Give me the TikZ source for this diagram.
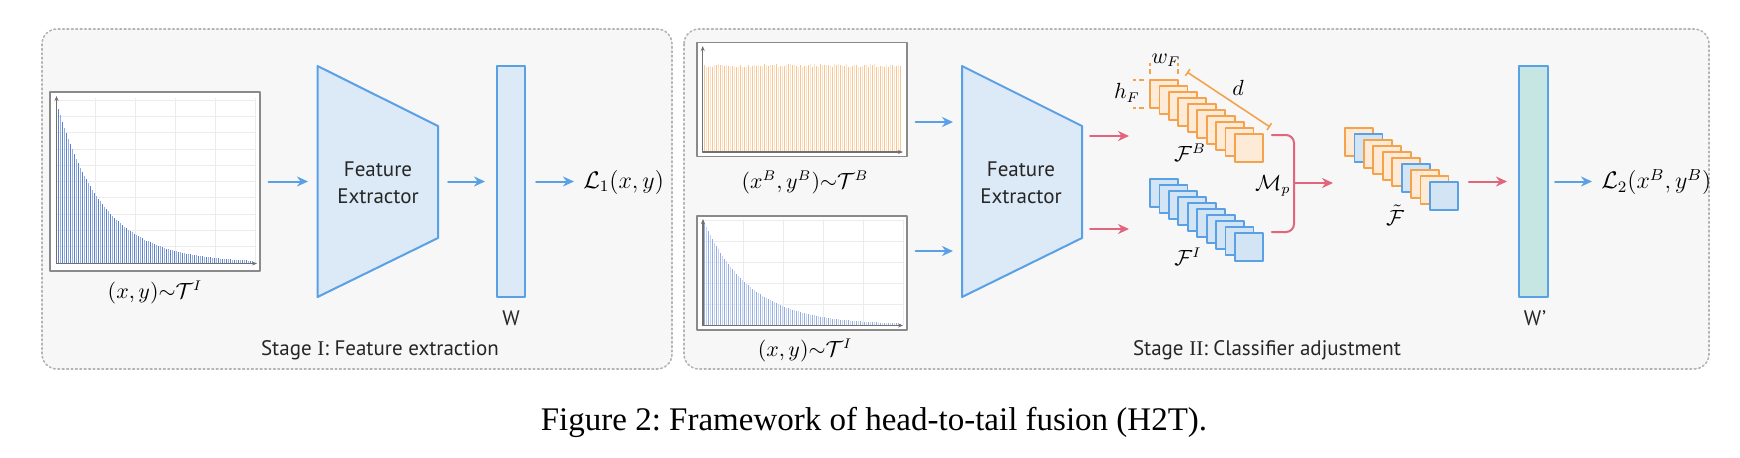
\documentclass[tikz,border=0pt]{standalone}
\usepackage{fontspec}
\setmainfont{Liberation Serif}
\setsansfont{PT Sans}
\usetikzlibrary{arrows.meta,positioning,calc}
\frenchspacing

\definecolor{bluel}{HTML}{5AA0E4}
\definecolor{bluefill}{HTML}{DCE9F6}
\definecolor{mapblue}{HTML}{D3E4F5}
\definecolor{orangel}{HTML}{F5A24C}
\definecolor{orangefill}{HTML}{FDEBD8}
\definecolor{redl}{HTML}{E0657D}
\definecolor{tealfill}{HTML}{C5E6E3}
\definecolor{boxfill}{HTML}{F7F7F7}
\definecolor{boxline}{HTML}{B4B4B4}
\definecolor{chartline}{HTML}{8A8A8A}
\definecolor{axisgray}{HTML}{707070}
\definecolor{gridgray}{HTML}{ECECEC}
\definecolor{taildark}{HTML}{5C80D0}
\definecolor{tailmid}{HTML}{93ACE4}
\definecolor{taillight}{HTML}{A6BCEA}
\definecolor{tailpale}{HTML}{C2D2F2}
\definecolor{headdark}{HTML}{F8C593}
\definecolor{headlight}{HTML}{FCE3C8}

\tikzset{
  stagebox/.style={fill=boxfill, draw=boxline, line width=0.8pt,
    dash pattern=on 0.9pt off 1.3pt, rounded corners=7.5pt},
  chartbox/.style={draw=chartline, fill=white, line width=0.7pt, inner sep=0pt,
    minimum width=105pt},
  axisline/.style={draw=axisgray, line width=0.6pt, -{Stealth[length=2.5pt,width=2pt]}},
  gridline/.style={draw=gridgray, line width=0.4pt},
  barline/.style={line width=0.5pt, line cap=butt},
  fextract/.style={draw=bluel, fill=bluefill, line width=1pt},
  wbar/.style={draw=bluel, line width=1pt, inner sep=0pt, minimum height=115.5pt},
  barrow/.style={draw=bluel, line width=1pt, -{Stealth[length=5.5pt,width=5pt]}},
  rarrow/.style={draw=redl, line width=1pt, -{Stealth[length=5.5pt,width=5pt]}},
  redline/.style={draw=redl, line width=1pt},
  fmap/.style={minimum size=14pt, inner sep=0pt, outer sep=0pt, line width=0.9pt},
  omap/.style={fmap, draw=orangel, fill=orangefill},
  bmap/.style={fmap, draw=bluel, fill=mapblue},
  dimline/.style={draw=orangel, line width=0.8pt},
  lbl/.style={font=\sffamily\fontsize{10.5}{13.3}\selectfont, text=black!85},
  mlbl/.style={font=\fontsize{10.5}{12}\selectfont},
  losslbl/.style={font=\fontsize{11.5}{13}\selectfont, anchor=west, inner sep=0pt},
}

\begin{document}
\begin{tikzpicture}[x=0.5pt, y=-0.5pt, >=Stealth, line cap=round, line join=round]
  \useasboundingbox (0,0) rectangle (1740,457);

  % stage panels
  \draw[stagebox] (42,29) rectangle (672,369);
  \draw[stagebox] (684,29) rectangle (1709,369);
  \node[lbl] (stageA) at (380,350) {Stage {\rmfamily I}: Feature extraction};
  \node[lbl] (stageB) at (1267,350) {Stage {\rmfamily II}: Classifier adjustment};

  % ---- Stage I ----
  \node[chartbox, minimum height=89.5pt] (chartA) at (155,181.5) {};
  \foreach \k in {0,...,9}
    \draw[gridline] (57,100+16.3*\k) -- (255,100+16.3*\k);
  \foreach \gx in {95.7,135.7,175.7,215.7,255.7}
    \draw[gridline] (\gx,98) -- (\gx,263);
  \foreach \i in {0,...,97} {
    \pgfmathsetmacro{\bx}{58.5+2*\i}
    \pgfmathsetmacro{\bh}{156*exp(-(\bx-58)/45.7)}
    \ifodd\i
      \draw[barline, tailmid] (\bx,263) -- ++(0,-\bh);
    \else
      \draw[barline, taildark] (\bx,263) -- ++(0,-\bh);
    \fi
  }
  \draw[axisline] (56.5,263.5) -- (56.5,96);
  \draw[axisline] (56.5,263.5) -- (257,263.5);
  \node[mlbl] (chartAlbl) at (155,292) {$(x,y){\sim}\mathcal{T}^{I}$};

  \draw[fextract] (317.5,66) -- (438,126) -- (438,238) -- (317.5,297) -- cycle;
  \node[lbl, align=center] (feA) at (378,183) {Feature\\Extractor};
  \coordinate (feAin) at (317.5,181.5);
  \coordinate (feAout) at (438,181.5);

  \node[wbar, fill=bluefill, minimum width=14pt] (wA) at (511,181.5) {};
  \node[lbl] (wAlbl) at (511,318) {W};
  \node[losslbl] (lossA) at (583,182) {$\mathcal{L}_1(x,y)$};

  \draw[barrow, shorten <=4pt, shorten >=4.75pt] (chartA.east) -- (feAin);
  \draw[barrow, shorten <=5pt, shorten >=5.5pt] (feAout) -- (wA.west);
  \draw[barrow, shorten <=5pt, shorten >=4.5pt] (wA.east) -- (lossA.west |- wA);

  % ---- Stage II ----
  \node[chartbox, minimum height=57pt] (chartB) at (802,99.5) {};
  \pgfmathsetseed{7}
  \foreach \i in {0,...,98} {
    \pgfmathsetmacro{\bx}{704.5+2*\i}
    \pgfmathsetmacro{\bh}{86+3*rnd-1.5}
    \ifodd\i
      \draw[barline, headlight] (\bx,151.7) -- ++(0,-\bh);
    \else
      \draw[barline, headdark] (\bx,151.7) -- ++(0,-\bh);
    \fi
  }
  \draw[axisline] (702.7,152) -- (702.7,46);
  \draw[axisline] (702.7,152) -- (903,152);
  \node[mlbl] (chartBlbl) at (805,182) {$(x^{B},y^{B}){\sim}\mathcal{T}^{B}$};

  \node[chartbox, minimum height=57pt] (chartC) at (802,273) {};
  \foreach \k in {0,...,4}
    \draw[gridline] (704,220+21*\k) -- (903,220+21*\k);
  \foreach \gx in {743,783,823,863,903}
    \draw[gridline] (\gx,220) -- (\gx,325);
  \foreach \i in {0,...,98} {
    \pgfmathsetmacro{\bx}{704.5+2*\i}
    \pgfmathsetmacro{\bh}{101*exp(-(\bx-705)/46.5)}
    \ifodd\i
      \draw[barline, tailpale] (\bx,325) -- ++(0,-\bh);
    \else
      \draw[barline, tailmid] (\bx,325) -- ++(0,-\bh);
    \fi
  }
  \draw[axisline] (703,325.5) -- (703,219);
  \draw[axisline] (703,325.5) -- (903,325.5);
  \node[mlbl] (chartClbl) at (805,350) {$(x,y){\sim}\mathcal{T}^{I}$};

  \draw[fextract] (962,66) -- (1082,126) -- (1082,238) -- (962,297) -- cycle;
  \node[lbl, align=center] (feB) at (1021,183) {Feature\\Extractor};
  \coordinate (feBin1) at (962,122);
  \coordinate (feBin2) at (962,251);
  \coordinate (feBout1) at (1082,136);
  \coordinate (feBout2) at (1082,229);
  \coordinate (fbin) at (1129,136);
  \coordinate (fiin) at (1129,229);

  \draw[barrow, shorten <=4pt, shorten >=4.5pt] (chartB.east |- feBin1) -- (feBin1);
  \draw[barrow, shorten <=4pt, shorten >=4.5pt] (chartC.east |- feBin2) -- (feBin2);
  \draw[rarrow, shorten <=4pt] (feBout1) -- (fbin);
  \draw[rarrow, shorten <=4pt] (feBout2) -- (fiin);

  % feature maps
  \foreach \i in {0,...,9}
    \node[omap] (fb\i) at (1164+9.44*\i,94+6*\i) {};
  \foreach \i in {0,...,9}
    \node[bmap] (fi\i) at (1164+9.44*\i,193+6*\i) {};
  \foreach \i/\m in {0/omap,1/bmap,2/omap,3/omap,4/omap,5/omap,6/bmap,7/omap,8/omap,9/bmap}
    \node[\m] (ft\i) at (1359+9.44*\i,142+6*\i) {};
  \node[mlbl] (fblbl) at (1190,153) {$\mathcal{F}^{B}$};
  \node[mlbl] (filbl) at (1188,257) {$\mathcal{F}^{I}$};
  \node[mlbl] (ftlbl) at (1395,215) {$\tilde{\mathcal{F}}$};

  % sizes of a map
  \draw[dimline, dash pattern=on 2.5pt off 1.5pt, line cap=butt] ($(fb0.north west)+(0,-6)$) -- ++(0,-11);
  \draw[dimline, dash pattern=on 2.5pt off 1.5pt, line cap=butt] ($(fb0.north east)+(0,-6)$) -- ++(0,-11);
  \draw[dimline, dash pattern=on 2.5pt off 1.5pt, line cap=butt] ($(fb0.north west)+(-6,0)$) -- ++(-11,0);
  \draw[dimline, dash pattern=on 2.5pt off 1.5pt, line cap=butt] ($(fb0.south west)+(-6,0)$) -- ++(-11,0);
  \node[mlbl] (wflbl) at (1166,60) {$w_F$};
  \node[mlbl] (hflbl) at (1127,93) {$h_F$};
  \draw[dimline, {Bar[width=4pt]}-{Bar[width=4pt]}] ($(fb0.north east)+(9,-8)$) -- ($(fb9.north east)+(7,-7)$)
    node[midway, above right, inner sep=1.5pt, mlbl, text=black] (dlbl) {$d$};

  % mixing of the two stacks
  \coordinate (mtop) at ($(fb9.north east)+(9,1)$);
  \coordinate (mbot) at ($(fi9.north east)+(9,-1)$);
  \coordinate (mjoin) at (1294,183);
  \draw[redline, rounded corners=4pt] (mtop) -- (mtop -| mjoin) -- (mbot -| mjoin) -- (mbot);
  \node[mlbl, anchor=east, inner sep=0pt] (mplbl) at (1291,186) {$\mathcal{M}_p$};
  \draw[rarrow, shorten >=6pt] (mjoin) -- (ft0.west |- mjoin);

  \node[wbar, fill=tealfill, minimum width=14.5pt] (wB) at (1533.5,181.5) {};
  \node[lbl] (wBlbl) at (1535,318) {W'};
  \node[losslbl] (lossB) at (1601,182) {$\mathcal{L}_2(x^{B},y^{B})$};
  \draw[rarrow, shorten <=5.5pt, shorten >=5.5pt] (ft9.east |- wB) -- (wB.west);
  \draw[barrow, shorten <=3pt, shorten >=4.5pt] (wB.east) -- (lossB.west |- wB);

  % caption
  \node[font=\rmfamily\fontsize{16.5}{19}\selectfont] (caption) at (874,422)
    {Figure 2: Framework of head-to-tail fusion (H2T).};
\end{tikzpicture}
\end{document}
